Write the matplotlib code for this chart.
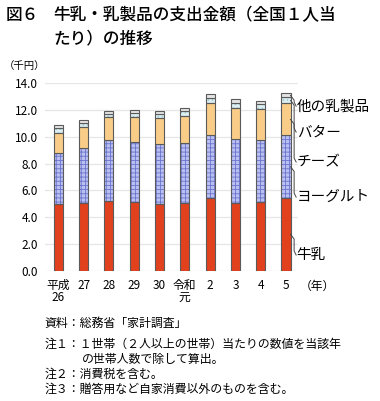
import numpy as np
import matplotlib.pyplot as plt

plt.rcParams['font.family'] = ['Noto Sans CJK JP', 'DejaVu Sans']
plt.rcParams['hatch.linewidth'] = 0.6

years = ['平成\n26', '27', '28', '29', '30', '令和\n元', '2', '3', '4', '5']
milk = [4.98, 5.08, 5.18, 5.11, 4.98, 5.08, 5.41, 5.08, 5.15, 5.43]
yogurt = [3.79, 4.06, 4.56, 4.52, 4.46, 4.43, 4.70, 4.73, 4.61, 4.68]
cheese = [1.54, 1.62, 1.72, 1.87, 1.96, 2.04, 2.39, 2.32, 2.29, 2.39]
butter = [0.33, 0.29, 0.29, 0.30, 0.33, 0.37, 0.42, 0.44, 0.39, 0.45]
other = [0.22, 0.20, 0.20, 0.20, 0.22, 0.25, 0.27, 0.30, 0.26, 0.30]
names = ['牛乳', 'ヨーグルト', 'チーズ', 'バター', '他の乳製品']
label_y = [1.17, 5.5, 8.12, 10.36, 12.3]

fig = plt.figure(figsize=(3.8, 4.01), dpi=100)
ax = fig.add_axes([0.118, 0.325, 0.666, 0.467])

x = np.arange(len(years))
w = 0.36
edge = '#5a5a5a'
series = [milk, yogurt, cheese, butter, other]
colors = ['#e2411e', '#b9bff0', '#f9cd88', '#dceff2', '#e4e4e4']
hatches = [None, '++++', None, '....', None]
hcol = [None, '#6a74cc', None, '#9fc4cc', None]
bottom = np.zeros(len(years))
mids = []
for vals, c, h, hc in zip(series, colors, hatches, hcol):
    vals = np.array(vals)
    if h:
        ax.bar(x, vals, w, bottom=bottom, color=c, hatch=h, edgecolor=hc, lw=0, zorder=2)
        ax.bar(x, vals, w, bottom=bottom, fill=False, edgecolor=edge, lw=0.8, zorder=3)
    else:
        ax.bar(x, vals, w, bottom=bottom, color=c, edgecolor=edge, lw=0.8, zorder=3)
    mids.append(bottom[-1] + vals[-1] / 2)
    bottom = bottom + vals

ax.set_xlim(-0.53, 9.47)
ax.set_ylim(0, 14)
ax.set_yticks(np.arange(0, 14.1, 2))
ax.set_yticklabels([f'{v:.1f}' for v in np.arange(0, 14.1, 2)], fontsize=8.5)
ax.set_xticks(x)
ax.set_xticklabels(years, fontsize=8.5, linespacing=0.9)
ax.tick_params(length=0, pad=5)
ax.tick_params(axis='x', pad=6)
ax.grid(axis='y', color='#e6e6e6', lw=0.9, zorder=0)
for s in ax.spines.values():
    s.set_visible(False)

# leader lines and labels
for nm, ym, yl in zip(names, mids, label_y):
    ax.plot([x[-1] + w / 2, 9.32, 9.32, 9.4], [ym, ym - 0.35, yl + 0.3, yl],
            color='#444444', lw=0.7, clip_on=False, zorder=4)
    ax.text(9.42, yl, nm, fontsize=10.5, va='center', ha='left')

ax.text(9.55, -0.66, '（年）', fontsize=8.5, va='top', ha='left',
        transform=ax.transData)
fig.text(0.01, 0.835, '（千円）', fontsize=7.5, va='center')

fig.text(0.015, 0.963, '図６', fontsize=12, va='center', weight='medium')
fig.text(0.14, 0.963, '牛乳・乳製品の支出金額（全国１人当', fontsize=12, va='center', weight='medium')
fig.text(0.14, 0.905, 'たり）の推移', fontsize=12, va='center', weight='medium')

notes = [(0.118, 0.194, '資料：総務省「家計調査」'),
         (0.118, 0.142, '注１：１世帯（２人以上の世帯）当たりの数値を当該年'),
         (0.215, 0.104, 'の世帯人数で除して算出。'),
         (0.118, 0.067, '注２：消費税を含む。'),
         (0.118, 0.030, '注３：贈答用など自家消費以外のものを含む。')]
for nx, ny, t in notes:
    fig.text(nx, ny, t, fontsize=8.6, va='center')

fig.savefig('out.png', dpi=100)
